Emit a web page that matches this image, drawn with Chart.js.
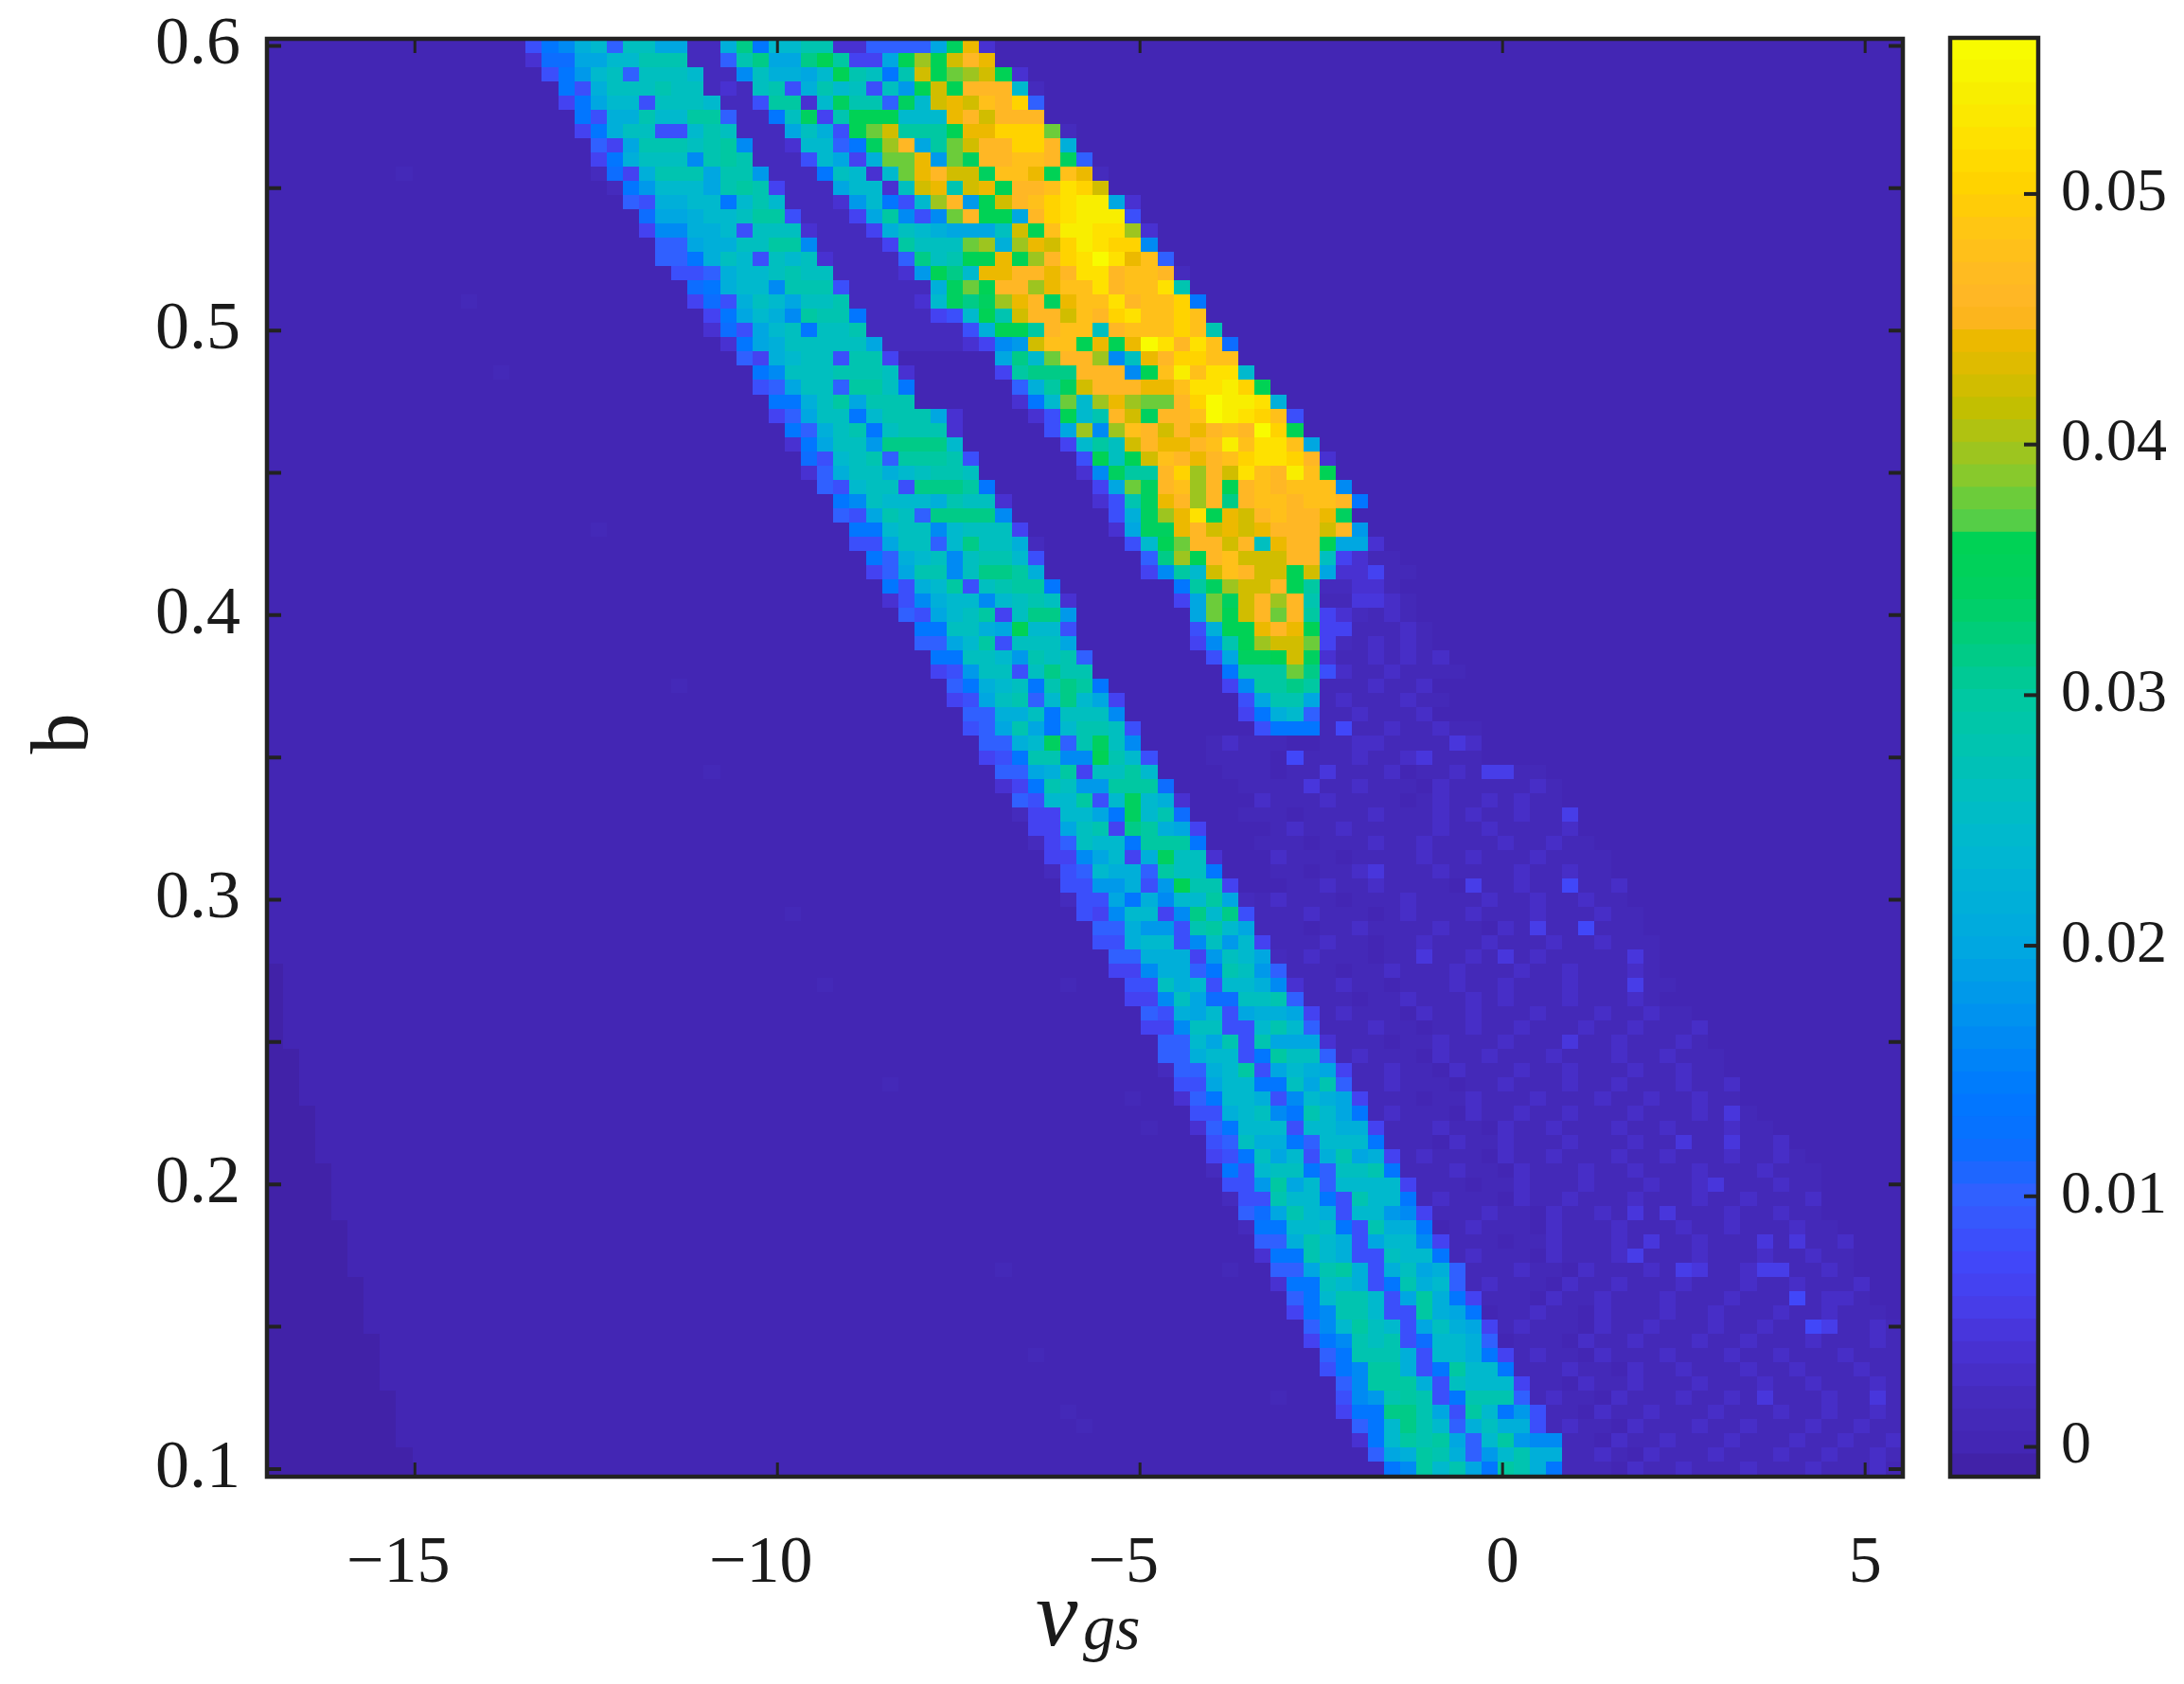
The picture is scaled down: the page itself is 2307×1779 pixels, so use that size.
<!DOCTYPE html>
<html>
<head>
<meta charset="utf-8">
<style>
  html, body { margin: 0; padding: 0; background: #fff; }
  #wrap { position: relative; width: 2307px; height: 1779px; overflow: hidden; }
  #map { position: absolute; left: 0; top: 0; }
  #bar { position: absolute; left: 2040px; top: 0; }
</style>
<script src="https://cdn.jsdelivr.net/npm/chart.js@4/dist/chart.umd.min.js"></script>
</head>
<body>
<div id="wrap">
  <canvas id="map" width="2307" height="1779"></canvas>
  <canvas id="bar" width="267" height="1779"></canvas>
</div>
<script>
// axis limits
const vgsLimits = [-17.04, 5.52];
const bLimits = [0.0973, 0.6025];
const barLimits = [-0.00119, 0.05623];
const gridSize = 101;

const xTickValues = [-15, -10, -5, 0, 5];
const barTickValues = [0, 0.01, 0.02, 0.03, 0.04, 0.05];

// cell values, one row per line from b = 0.6 downwards: "first column:levels"
// a level character is base-36 and counts steps of 0.002
const levelStep = 0.002;
const faintStep = 0.0014;
const stripRows = [
  "16:478bc5ddaa11bg7ccee225555ahm2",
  "16:266aacceee115egaagif33aikilnm",
  "17:479cd5dddc118dbbacied7elijkli2",
  "18:74bdddedd121de4becd4d9ilinnnc1",
  "18:37acc4dddc114ff2chee5hclmlonp5",
  "19:74bbeccff5117dh3eiiicccmnlnnn",
  "19:37bdd44ced111adb4ijlfffimmpppj1",
  "20:53aeeedef8112cc57hknafjlnnppnb",
  "20:37bddd8efe1114ca3bjjm9jhnnoonh5",
  "20:163beeeaee91117dc2cjmnllhoomiom1",
  "21:179cccaefe3111acc2dlmelminnoqpl",
  "22:54bbcc7cec11129c74ckn9ilnopqrra2",
  "23:6aabccdff41113af848jniianpqrrr4",
  "23:388bbc4ddd21113bdcbaaadliorrqqk2",
  "24:55abbddff811113fdddjkbkmlprqpp8",
  "24:557bdc4dcd211115gdeiimiknpqsqmo5",
  "25:445bccdedd111129igcmmnnmnqqnoon1",
  "26:67bcc8eee411111bhjinnkmooqnooqe",
  "26:364bdcadde11112chghkmnhmooqnoop7",
  "27:37acb8fee7111134cielnnlonpqoopo",
  "27:264acd7dde1111114biifnoodnooopoe",
  "28:27abddddda111112389looimimsqnqo6",
  "29:53bcdd4ee3",
  "30:78dddeeed2",
  "30:45add5ffd7",
  "31:77bdfaeee",
  "31:35add7ceeea2",
  "32:75bde7deee2",
  "32:27add9ggggc",
  "33:64cde5fffe4",
  "33:25bddbcdeed",
  "34:54cdd4gggf7",
  "35:78dcccbedd2",
  "35:54aed5gggg8",
  "36:77cdd8cddd3",
  "36:44add5cgddb1",
  "37:75bcd8deec4",
  "37:35aee8dggfb",
  "38:74bcf4deff7",
  "38:248bcc8cded2",
  "39:54acdf3dgg9",
  "40:77ddbaicc4",
  "40:55acf4ddda",
  "41:77ddc9ede5",
  "41:349dd4dgee",
  "42:57bcd7egf7",
  "42:34ade5cgca3",
  "43:55bbd7ddd8",
  "43:45aea7ceed4",
  "44:55bch5ehd8",
  "44:347ee88iec4",
  "45:55abf3ddfc",
  "45:237ed99fff6",
  "46:54ccf4chcb2",
  "46:133cca7hce6",
  "47:33ade3gfba3",
  "47:135dcc7fff7",
  "48:338ac3bhdd2",
  "48:145cbb5fdd7",
  "49:4499b49iee3",
  "49:144a7b8ccfa1",
  "50:438cc38gcg4",
  "51:55b994efca",
  "51:44bcc48d9c3",
  "52:55bbb39dca1",
  "52:338bb57ed95",
  "53:44dbc4ccb82",
  "53:338da66dde5",
  "54:54bac4abba3",
  "54:338dd44cec5",
  "55:55cae4eaaa2",
  "55:55bcc47fdd5",
  "55:155bcf4acba3",
  "56:44acc77dae5",
  "56:257ccb48cba3",
  "57:44bcd87eca7",
  "57:257ccc4ccbb3",
  "58:45dbb75ccc7",
  "58:347dac4beab3",
  "58:174cdd75dde7",
  "59:449fac5cccc3",
  "59:144ecc74ecc7",
  "60:56aecb4cc983",
  "60:177ccd74ebb7",
  "61:55becb4acc83",
  "61:277ecb44dcc7",
  "62:55aefb4bdab5",
  "62:277dcb47ebc5",
  "63:57ceec4afb73",
  "63:378eec44fba7",
  "64:58cfdc4adba3",
  "64:378ede46ccb5",
  "65:57eeeb4ccb73",
  "65:478ffb47fcc7",
  "66:58fffb4dccc3",
  "66:489efe47eee5",
  "66:377ggea4fc794",
  "67:57cgec5bdbb4",
  "67:27cfefa5cf988",
  "68:5abfeb59cebb",
  "69:78fcea7feb7"
];

// the bright upper ridge, starts at row 22
const ridgeFirstRow = 22;
const ridgeRows = [
  "45:agcjnnk8dmnppoo",
  "45:3fgggnnn8ioroqqc",
  "46:5bfhlnnnmmoqqrpi",
  "46:27cjckmkjjnpsrrqb",
  "47:24icenlhnnosrqpo4",
  "48:4ak8konlnmnonspi",
  "49:3cfdlnmmnoroqqoa",
  "50:4idilonmnopqqpn2",
  "50:28hffnpknlqonroi",
  "51:3ajhnokninonooo8",
  "51:24ehmnkngnoonoon7",
  "52:4bhkmqimlnonnmh",
  "52:2ahhmnlmlmnnnln9",
  "53:4cijnnlndmnniaa2",
  "54:5gkinolllnnd32",
  "54:38fclonllila223",
  "56:7fhkllnif1122",
  "56:3ajhlnkne",
  "57:ajilnjnf321",
  "57:4biimnmi33",
  "57:38eikllj31",
  "58:4ahhilh2",
  "59:7fffjg4",
  "59:38ffgf",
  "60:4aeea",
  "60:37bc5",
  "61:4777"
];

// the weak band on the right, starts at row 36
const faintFirstRow = 36;
const faintRows = [
  "68:11", "69:11", "65:11221", "65:113321", "65:121121", "65:3311121",
  "65:2112121", "66:1121212", "66:21121111", "65:1112112", "65:12111211",
  "65:1121112", "65:1511211211",
  "58:12111001122111132",
  "58:111105111211231110",
  "59:11101131112011214411",
  "59:011113112111021111121",
  "60:02111211110121121211",
  "60:111011112111212112114",
  "61:01211211111211211112",
  "61:111011121121111211211",
  "62:211101111211211121111",
  "62:110112311121111211211",
  "62:0112112111104112115112",
  "61:12111011121111211211211",
  "61:111211101211121112111211",
  "61:111011211112110214115111",
  "62:111211011211121112112111",
  "62:112111011311213121111131",
  "63:11101121112111211211121",
  "63:111211011121121112111411",
  "64:1110112111212111211121",
  "65:12111021121112111211211",
  "65:111211011211211121121112",
  "66:11101121112111311211121",
  "66:121110211211121112112111",
  "66:111211021112112111211211",
  "67:112111011211121121112112",
  "68:11101121112111211211211",
  "68:121110211211211121112131",
  "69:111211021121112112111211",
  "69:1110211211121112113113112",
  "70:1211102112111211211121121",
  "70:11121102111211211121112111",
  "71:1110112111211121123111211",
  "71:1211102112111211121121112",
  "72:111211021121313111211211",
  "73:121110211121112112111211",
  "73:1110112111213112111313112",
  "73:1211102111241112111211211",
  "74:111211021112143112441121",
  "74:1211102112111211121121112",
  "75:111021121112111211151221",
  "76:112110211121121112112111",
  "76:1211102112111211211541121",
  "77:111021121112112111211121",
  "77:121102111211121121112111",
  "77:111211021121112112111211",
  "78:11021121112111211211121",
  "78:121102111211213111211311",
  "78:111021121112111211211211",
  "79:12110211121121112112111",
  "79:1110211211121112112112",
  "80:112102111211121121121",
  "80:11102112111211121112"
];

// darker wedge in the lower left corner: width in columns for rows 65 to 100
const wedgeFirstRow = 65;
const wedgeWidths = [1,1,1,1,1,1, 2,2,2,2, 3,3,3,3, 4,4,4,4, 5,5,5,5, 6,6,6,6, 7,7,7,7, 8,8,8,8, 9,9];
const wedgeValue = -0.0009;

// lone weak cells left of the main band
const spotRowIndex = [9, 18, 23, 34, 45, 51, 61, 66, 66, 73, 74, 76, 86, 86, 92, 95, 96, 96, 97, 97];
const spotColIndex = [8, 12, 14, 20, 25, 27, 32, 34, 49, 38, 53, 54, 45, 59, 47, 62, 49, 49, 50, 50];

// colour bar stops
const stopValues = [-0.00125, 0, 0.002, 0.004, 0.006, 0.0075, 0.01, 0.012, 0.014, 0.016, 0.02, 0.024, 0.028, 0.03, 0.034, 0.0362, 0.0366, 0.038, 0.039, 0.04, 0.0415, 0.043, 0.0445, 0.0452, 0.047, 0.049, 0.05, 0.052, 0.054, 0.0563];
const stopColors = ['#3f20a0', '#4326b3', '#452bbd', '#4932d4', '#4640ee', '#4048fa', '#3060ff', '#0a6eff', '#0078ff', '#0088f5', '#00a8e0', '#00b8d0', '#00c4b0', '#00c8a0', '#00d060', '#00d254', '#4ccf4c', '#70cc38', '#90c828', '#a5c41a', '#c4bf00', '#dcbc00', '#f2b800', '#ffb428', '#ffbc20', '#ffc810', '#ffd000', '#ffe000', '#f8ee00', '#f8ff00'];
const bandCount = 64;

const inkColor = '#222222';
const textColor = '#1a1a1a';
const serif = '"Liberation Serif", "Times New Roman", serif';

function hexToRgb(hex) {
  return [1, 3, 5].map(i => parseInt(hex.slice(i, i + 2), 16));
}

function colorAt(v) {
  let i = 0;
  while (i < stopValues.length - 2 && v > stopValues[i + 1]) i++;
  const t = Math.min(1, Math.max(0, (v - stopValues[i]) / (stopValues[i + 1] - stopValues[i])));
  const a = hexToRgb(stopColors[i]);
  const b = hexToRgb(stopColors[i + 1]);
  return 'rgb(' + a.map((c, k) => Math.round(c + (b[k] - c) * t)).join(',') + ')';
}

const bandSize = (barLimits[1] - barLimits[0]) / bandCount;
const bandColors = [];
for (let i = 0; i < bandCount; i++) {
  bandColors.push(colorAt(barLimits[0] + (i + 0.5) * bandSize));
}

function bandOf(v) {
  return Math.max(0, Math.min(bandCount - 1, Math.floor((v - barLimits[0]) / bandSize)));
}

// one small canvas per colour band, Chart.js draws them as point styles
const bandCells = bandColors.map(color => {
  const c = document.createElement('canvas');
  c.width = 18;
  c.height = 16;
  const g = c.getContext('2d');
  g.fillStyle = color;
  g.fillRect(0, 0, 18, 16);
  return c;
});

const grid = [];
for (let r = 0; r < gridSize; r++) grid.push(new Array(gridSize).fill(0));

function stamp(rows, firstRow, step) {
  rows.forEach((row, k) => {
    const [start, cells] = row.split(':');
    for (let i = 0; i < cells.length; i++) {
      const c = Number(start) + i;
      if (c < gridSize) grid[firstRow + k][c] = parseInt(cells[i], 36) * step;
    }
  });
}

wedgeWidths.forEach((w, k) => {
  for (let c = 0; c < w; c++) grid[wedgeFirstRow + k][c] = wedgeValue;
});
spotRowIndex.forEach((r, k) => { grid[r][spotColIndex[k]] = faintStep; });
stamp(faintRows, faintFirstRow, faintStep);
stamp(stripRows, 0, levelStep);
stamp(ridgeRows, ridgeFirstRow, levelStep);

const cellPoints = [];
const cellStyles = [];
const dx = (vgsLimits[1] - vgsLimits[0]) / gridSize;
const dy = (bLimits[1] - bLimits[0]) / gridSize;
for (let r = 0; r < gridSize; r++) {
  for (let c = 0; c < gridSize; c++) {
    cellPoints.push({ x: vgsLimits[0] + (c + 0.5) * dx, y: bLimits[1] - (r + 0.5) * dy });
    cellStyles.push(bandCells[bandOf(grid[r][c])]);
  }
}

// frame and inward ticks, the ticks come from the scales
const frameTicks = {
  id: 'frameTicks',
  afterDatasetsDraw(chart) {
    const { ctx, chartArea: a, scales } = chart;
    ctx.save();
    ctx.strokeStyle = inkColor;
    if (scales.x && scales.x.options.display) {
      ctx.lineWidth = 3;
      scales.x.ticks.forEach(t => {
        const px = scales.x.getPixelForValue(t.value);
        ctx.beginPath();
        ctx.moveTo(px, a.bottom);
        ctx.lineTo(px, a.bottom - 15);
        ctx.moveTo(px, a.top);
        ctx.lineTo(px, a.top + 15);
        ctx.stroke();
      });
    }
    ctx.lineWidth = 4;
    scales.y.ticks.forEach(t => {
      const py = scales.y.getPixelForValue(t.value);
      ctx.beginPath();
      ctx.moveTo(a.right, py);
      ctx.lineTo(a.right - 15, py);
      if (chart.canvas.id === 'map') {
        ctx.moveTo(a.left, py);
        ctx.lineTo(a.left + 15, py);
      }
      ctx.stroke();
    });
    ctx.lineWidth = 4.5;
    ctx.strokeRect(a.left, a.top, a.right - a.left, a.bottom - a.top);
    ctx.restore();
  }
};

const axisTitles = {
  id: 'axisTitles',
  afterDraw(chart) {
    const { ctx } = chart;
    ctx.save();
    ctx.fillStyle = textColor;
    ctx.textBaseline = 'alphabetic';
    ctx.textAlign = 'left';
    ctx.font = 'italic 100px ' + serif;
    ctx.fillText('v', 1094, 1738);
    ctx.font = 'italic 68px ' + serif;
    ctx.fillText('gs', 1144, 1742);
    ctx.translate(92, 775);
    ctx.rotate(-Math.PI / 2);
    ctx.textAlign = 'center';
    ctx.font = '86px ' + serif;
    ctx.fillText('b', 0, 0);
    ctx.restore();
  }
};

new Chart(document.getElementById('map'), {
  type: 'scatter',
  data: {
    datasets: [{
      data: cellPoints,
      pointStyle: cellStyles,
      pointRadius: 9,
      pointHoverRadius: 9,
      borderWidth: 0
    }]
  },
  options: {
    responsive: false,
    animation: false,
    events: [],
    layout: { padding: { top: 41, right: 297, left: 0, bottom: 0 } },
    plugins: { legend: { display: false }, tooltip: { enabled: false } },
    scales: {
      x: {
        type: 'linear',
        min: vgsLimits[0],
        max: vgsLimits[1],
        afterFit(scale) { scale.height = 219; scale.paddingLeft = 0; scale.paddingRight = 0; },
        afterBuildTicks(scale) { scale.ticks = xTickValues.map(value => ({ value })); },
        grid: { display: false },
        border: { display: false },
        ticks: {
          autoSkip: false,
          maxRotation: 0,
          padding: 43,
          color: textColor,
          font: { family: serif, size: 70 },
          callback: v => (v < 0 ? '\u2212' + Math.abs(v) + '\u2002' : String(v))
        }
      },
      y: {
        type: 'linear',
        min: bLimits[0],
        max: bLimits[1],
        afterFit(scale) { scale.width = 282; scale.paddingTop = 0; scale.paddingBottom = 0; },
        grid: { display: false },
        border: { display: false },
        ticks: {
          stepSize: 0.05,
          includeBounds: false,
          autoSkip: false,
          padding: 20,
          color: textColor,
          font: { family: serif, size: 72 },
          callback: v => (Math.round(v * 100) % 10 === 0 ? (Math.round(v * 10) / 10).toFixed(1) : '')
        }
      }
    }
  },
  plugins: [frameTicks, axisTitles]
});

// colour bar, one floating bar per band
const bandDatasets = bandColors.map((color, i) => ({
  data: [[barLimits[0] + i * bandSize, barLimits[0] + (i + 1) * bandSize + bandSize * 0.02]],
  backgroundColor: color,
  borderWidth: 0,
  barPercentage: 1,
  categoryPercentage: 1,
  grouped: false
}));

new Chart(document.getElementById('bar'), {
  type: 'bar',
  data: { labels: [''], datasets: bandDatasets },
  options: {
    responsive: false,
    animation: false,
    events: [],
    layout: { padding: { top: 40, bottom: 219, left: 20, right: 0 } },
    plugins: { legend: { display: false }, tooltip: { enabled: false } },
    scales: {
      x: { display: false },
      y: {
        position: 'right',
        min: barLimits[0],
        max: barLimits[1],
        afterFit(scale) { scale.width = 154; scale.paddingTop = 0; scale.paddingBottom = 0; },
        afterBuildTicks(scale) { scale.ticks = barTickValues.map(value => ({ value })); },
        grid: { display: false },
        border: { display: false },
        ticks: {
          autoSkip: false,
          padding: 16,
          color: textColor,
          font: { family: serif, size: 64 },
          callback: v => String(v)
        }
      }
    }
  },
  plugins: [frameTicks]
});
</script>
</body>
</html>
